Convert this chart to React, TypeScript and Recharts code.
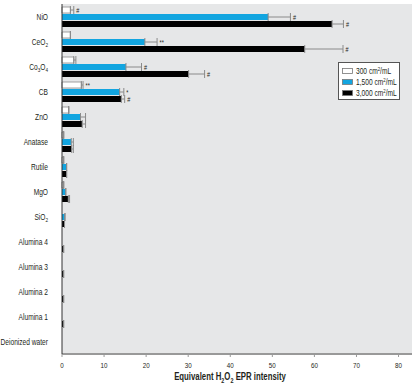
import React from 'react';
import { BarChart, Bar, XAxis, YAxis, CartesianGrid, ErrorBar, LabelList } from 'recharts';

const categories = ['NiO', 'CeO2', 'Co3O4', 'CB', 'ZnO', 'Anatase', 'Rutile', 'MgO', 'SiO2', 'Alumina 4', 'Alumina 3', 'Alumina 2', 'Alumina 1', 'Deionized water'];

const low = [2.0, 2.0, 2.8, 4.6, 1.6, 0.4, 0.4, 0.4, 0, 0, 0, 0, 0, 0];
const mid = [49.0, 19.7, 15.2, 13.7, 4.4, 2.2, 1.1, 0.9, 0.7, 0, 0, 0, 0, 0];
const high = [64.2, 57.7, 30.1, 14.1, 4.8, 2.3, 1.1, 1.5, 0.6, 0.4, 0.4, 0.4, 0.4, 0];

const lowErr = [0.8, 0, 0.5, 0.4, 0, 0, 0, 0, 0, 0, 0, 0, 0, 0];
const midErr = [5.3, 2.9, 3.7, 1.0, 1.2, 0.5, 0, 0, 0, 0, 0, 0, 0, 0];
const highErr = [2.7, 9.1, 3.8, 0.8, 0.8, 0.4, 0, 0.3, 0, 0, 0, 0, 0, 0];

const lowMark = ['#', '', '', '**', '', '', '', '', '', '', '', '', '', ''];
const midMark = ['#', '**', '#', '*', '', '', '', '', '', '', '', '', '', ''];
const highMark = ['#', '#', '#', '#', '', '', '', '', '', '', '', '', '', ''];

const xTicks = [0, 10, 20, 30, 40, 50, 60, 70, 80];

const legendItems = [
  { fill: '#ffffff', label: '300' },
  { fill: '#12a5e0', label: '1,500' },
  { fill: '#000000', label: '3,000' },
];

const FONT = "'Liberation Sans', Arial, sans-serif";
const BLUE = '#12a5e0';
const INK = '#231f20';
const NARROW = 0.78;

const data = categories.map((name, i) => ({
  name,
  low: low[i],
  mid: mid[i],
  high: high[i],
  lowE: [0, lowErr[i]],
  midE: [0, midErr[i]],
  highE: [0, highErr[i]],
}));

// digits right after a letter are drawn as subscripts (CeO2 -> CeO₂)
function Formula({ text, size }: { text: string; size: number }) {
  const parts = text.split(/(?<=[A-Za-z])(\d)/);
  return (
    <>
      {parts.map((p, i) =>
        i % 2 === 1 ? (
          <tspan key={i} fontSize={size * 0.7} dy={size * 0.25}>{p}</tspan>
        ) : (
          <tspan key={i} dy={i > 0 ? -size * 0.25 : 0}>{p}</tspan>
        )
      )}
    </>
  );
}

// condensed text, the original uses a narrow face
const Narrow = ({ x, y, children }: { x: number; y: number; children: React.ReactNode }) => (
  <g transform={`translate(${x},${y}) scale(${NARROW},1)`}>{children}</g>
);

const YTick = (props: any) => {
  const { x, y, payload } = props;
  return (
    <Narrow x={x - 6} y={y + 3}>
      <text x={0} y={0} textAnchor="end" fontSize={8.5} fill={INK} fontFamily={FONT}>
        <Formula text={payload.value} size={8.5} />
      </text>
    </Narrow>
  );
};

const XTick = (props: any) => {
  const { x, y, payload } = props;
  return (
    <Narrow x={x} y={y + 9}>
      <text x={0} y={0} textAnchor="middle" fontSize={8} fill={INK} fontFamily={FONT}>{payload.value}</text>
    </Narrow>
  );
};

const markContent = (vals: number[], errs: number[], marks: string[]) => (props: any) => {
  const { x, y, width, height, index } = props;
  const m = marks[index];
  if (!m) return null;
  const v = vals[index];
  const end = x + (v > 0 ? width * (v + errs[index]) / v : 0);
  return (
    <Narrow x={end + 2.5} y={y + height / 2 + 3}>
      <text x={0} y={0} fontSize={7} fill={INK} fontFamily={FONT}>{m}</text>
    </Narrow>
  );
};

const XLabel = (props: any) => {
  const { viewBox } = props;
  return (
    <Narrow x={230} y={viewBox.y + 26}>
      <text x={0} y={0} textAnchor="middle" fontSize={10} fontWeight="bold" fill={INK} fontFamily={FONT}>
        <tspan>Equivalent H</tspan>
        <tspan fontSize={7} dy={2.5}>2</tspan>
        <tspan dy={-2.5}>O</tspan>
        <tspan fontSize={7} dy={2.5}>2</tspan>
        <tspan dy={-2.5}> EPR intensity</tspan>
      </text>
    </Narrow>
  );
};

const LegendBox = () => (
  <svg width={62} height={38} style={{ position: 'absolute', left: 338, top: 62 }}>
    <rect x={0.5} y={0.5} width={61} height={37} fill="#fff" stroke="#555" />
    {legendItems.map((it, i) => (
      <g key={it.label}>
        <rect x={4.5} y={6.5 + i * 11} width={10} height={5} fill={it.fill} stroke="#777" strokeWidth={0.8} />
        <Narrow x={18} y={12 + i * 11}>
          <text x={0} y={0} fontSize={8.5} fill={INK} fontFamily={FONT}>
            <tspan>{it.label} cm</tspan>
            <tspan fontSize={5.5} dy={-3}>2</tspan>
            <tspan dy={3}>/mL</tspan>
          </text>
        </Narrow>
      </g>
    ))}
  </svg>
);

export default function App() {
  return (
    <div style={{ position: 'absolute', left: 0, top: 0, width: 414, height: 388, background: '#fff' }}>
      <BarChart
        width={414}
        height={388}
        data={data}
        layout="vertical"
        margin={{ top: 4, right: 2, left: 0, bottom: 0 }}
        barCategoryGap="12%"
        barGap={1}
      >
        <CartesianGrid stroke="none" fill="#e6e7e8" />
        <XAxis
          type="number"
          domain={[0, 83.2]}
          ticks={xTicks}
          height={34}
          axisLine={{ stroke: '#999', strokeWidth: 2 }}
          tickLine={{ stroke: '#999' }}
          tickSize={3}
          tick={<XTick />}
          label={<XLabel />}
        />
        <YAxis
          type="category"
          dataKey="name"
          width={62}
          interval={0}
          axisLine={{ stroke: '#333' }}
          tickLine={false}
          tick={<YTick />}
        />
        <Bar dataKey="low" fill="#ffffff" stroke="#8a8a8a" strokeWidth={0.8} isAnimationActive={false}>
          <ErrorBar dataKey="lowE" direction="x" width={4} stroke="#8a8a8a" strokeWidth={1} />
          <LabelList dataKey="low" content={markContent(low, lowErr, lowMark)} />
        </Bar>
        <Bar dataKey="mid" fill={BLUE} isAnimationActive={false}>
          <ErrorBar dataKey="midE" direction="x" width={4} stroke="#8a8a8a" strokeWidth={1} />
          <LabelList dataKey="mid" content={markContent(mid, midErr, midMark)} />
        </Bar>
        <Bar dataKey="high" fill="#000000" isAnimationActive={false}>
          <ErrorBar dataKey="highE" direction="x" width={4} stroke="#8a8a8a" strokeWidth={1} />
          <LabelList dataKey="high" content={markContent(high, highErr, highMark)} />
        </Bar>
      </BarChart>
      <LegendBox />
    </div>
  );
}
